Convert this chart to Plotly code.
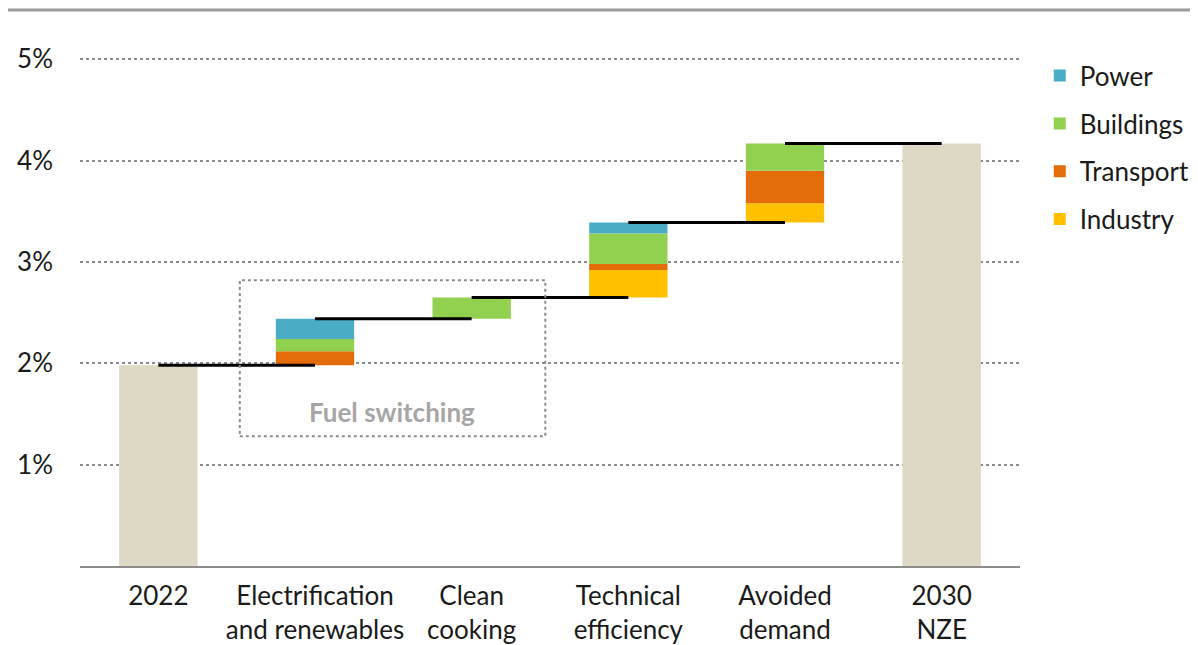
import numpy as np
import plotly.graph_objects as go

categories = ['2022', 'Electrification<br>and renewables', 'Clean<br>cooking',
              'Technical<br>efficiency', 'Avoided<br>demand', '2030<br>NZE']
start_value = 1.98
end_value = 4.17
industry = [0, 0, 0, 0.27, 0.19]
transport = [0, 0.14, 0, 0.06, 0.32]
buildings = [0, 0.12, 0.21, 0.30, 0.27]
power = [0, 0.20, 0, 0.11, 0]
y_ticks = [1, 2, 3, 4, 5]
y_ticklabels = ['1%', '2%', '3%', '4%', '5%']

colors = {'Power': '#4BACC6', 'Buildings': '#92D050',
          'Transport': '#E46C0A', 'Industry': '#FFC000'}
total_color = '#DDD9C4'
font_family = 'Lato, Noto Sans, sans-serif'

x = np.arange(len(categories))
steps = np.array(industry) + np.array(transport) + np.array(buildings) + np.array(power)
cum = np.cumsum(steps)
before = start_value + np.concatenate([[0], cum[:-1]])  # level where each step starts
after = start_value + cum                               # level after each step

fig = go.Figure()

# total bars
fig.add_trace(go.Bar(x=[x[0], x[-1]], y=[start_value, end_value], marker_color=total_color,
                     marker_line_width=0, width=0.5, showlegend=False, hoverinfo='skip'))

# stacked sector pieces (bottom to top), legend shows top to bottom
base = before.copy()
for rank, (name, vals) in enumerate([('Industry', industry), ('Transport', transport),
                                     ('Buildings', buildings), ('Power', power)]):
    vals = np.array(vals, dtype=float)
    fig.add_trace(go.Bar(
        x=x[1:5], y=vals[1:], base=base[1:], name=name,
        marker_color=colors[name], marker_line_width=0, width=0.5,
        legendgroup=name, legendrank=1000 - rank,
    ))
    base = base + vals

# connector lines
for i in range(5):
    fig.add_trace(go.Scatter(x=[x[i], x[i + 1]], y=[after[i], after[i]], mode='lines',
                             line=dict(color='black', width=3), showlegend=False,
                             hoverinfo='skip'))

# fuel switching box
fig.add_shape(type='rect', x0=0.52, x1=2.47, y0=1.28, y1=2.82,
              line=dict(color='#8c8c8c', width=2, dash='dot'), layer='above')
fig.add_annotation(x=1.49, y=1.52, text='<b>Fuel switching</b>', showarrow=False,
                   font=dict(size=26, color='#a6a6a6', family=font_family))

# top rule
fig.add_shape(type='line', xref='paper', yref='paper', x0=-0.09, x1=1.2, y0=1.055, y1=1.055,
              line=dict(color='#9a9a9a', width=3))

fig.update_layout(
    width=1190, height=637,
    margin=dict(l=72, r=178, t=31, b=79, autoexpand=False),
    barmode='overlay',
    plot_bgcolor='white', paper_bgcolor='white',
    font=dict(family=font_family, size=26, color='#1a1a1a'),
    legend=dict(x=1.021, y=0.975, xanchor='left', yanchor='top', traceorder='grouped',
                tracegroupgap=11, font=dict(size=26), bgcolor='rgba(0,0,0,0)'),
    xaxis=dict(range=[-0.5, 5.5], tickvals=list(x), ticktext=categories, showgrid=False,
               showline=True, linecolor='#8c8c8c', linewidth=2, ticks='', zeroline=False,
               automargin=False, ticklabelstandoff=6),
    yaxis=dict(range=[0, 5.2], tickvals=y_ticks, ticktext=y_ticklabels, showgrid=True,
               gridcolor='#8c8c8c', griddash='dot', gridwidth=2, zeroline=False,
               showline=False, ticks='', ticklabelstandoff=26, automargin=False),
)

fig.write_html('out.html')
